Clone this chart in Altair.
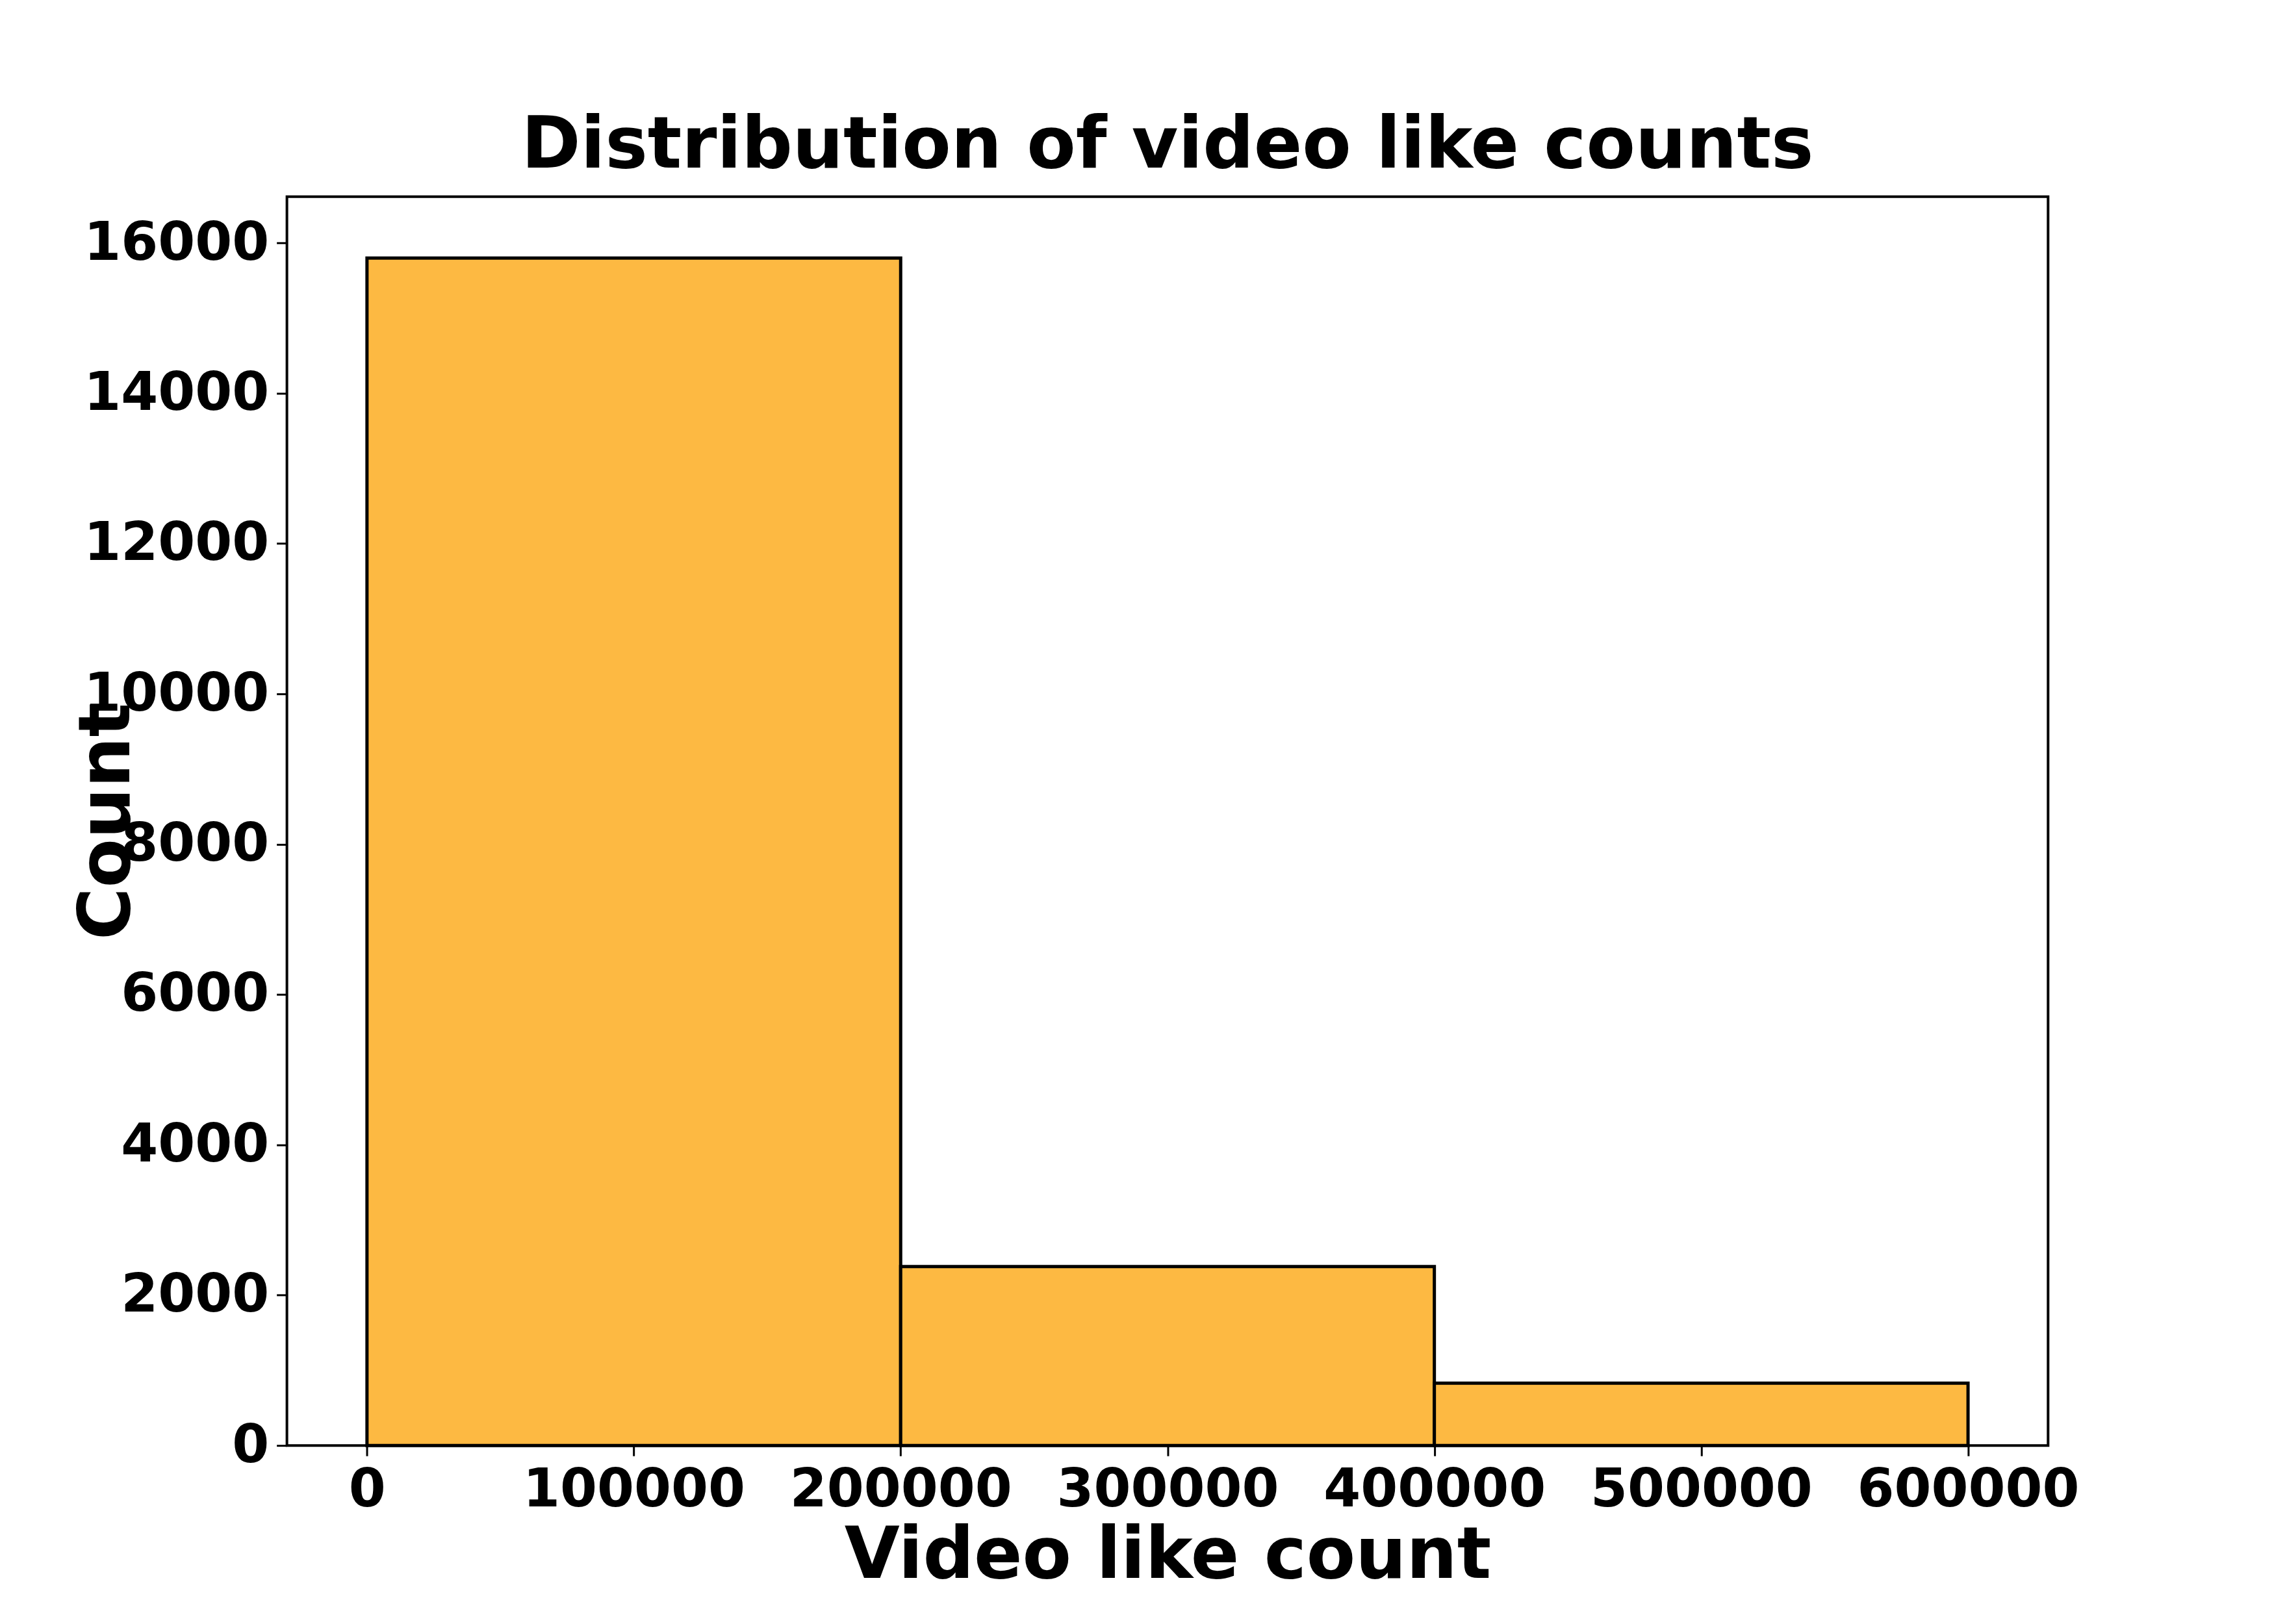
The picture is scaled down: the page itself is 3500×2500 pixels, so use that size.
import pandas as pd
import altair as alt

bin_start = [0, 200000, 400000]
bin_end = [200000, 400000, 600000]
counts = [15800, 2380, 830]

df = pd.DataFrame({"start": bin_start, "end": bin_end, "count": counts})

font = "DejaVu Sans"

chart = alt.Chart(df, title=alt.Title(
    "Distribution of video like counts", fontSize=110, font=font,
    fontWeight="bold", color="black", offset=22)
).mark_rect(color="#FDB942", stroke="black", strokeWidth=5).encode(
    x=alt.X("start:Q", title="Video like count",
            scale=alt.Scale(domain=[-30000, 630000], nice=False, zero=False),
            axis=alt.Axis(values=[0, 100000, 200000, 300000, 400000, 500000, 600000],
                          format="d", titlePadding=8)),
    x2="end:Q",
    y=alt.Y("count:Q", title="Count",
            scale=alt.Scale(domain=[0, 16616], nice=False),
            axis=alt.Axis(values=list(range(0, 16001, 2000)), format="d", titlePadding=20)),
).properties(
    width=2713, height=1924,
    autosize=alt.AutoSizeParams(type="none"),
    padding={"left": 434, "top": 294, "right": 340, "bottom": 260},
).configure_axis(
    labelFont=font, labelFontSize=82, labelFontWeight="bold", labelColor="black",
    labelLimit=0,
    titleFont=font, titleFontSize=110, titleFontWeight="bold", titleColor="black",
    grid=False, domain=False, tickColor="black", tickWidth=3, tickSize=16,
    labelPadding=12,
).configure_view(stroke="black", strokeWidth=4)

chart.save("out.html", embed_options={"renderer": "svg", "actions": False})
